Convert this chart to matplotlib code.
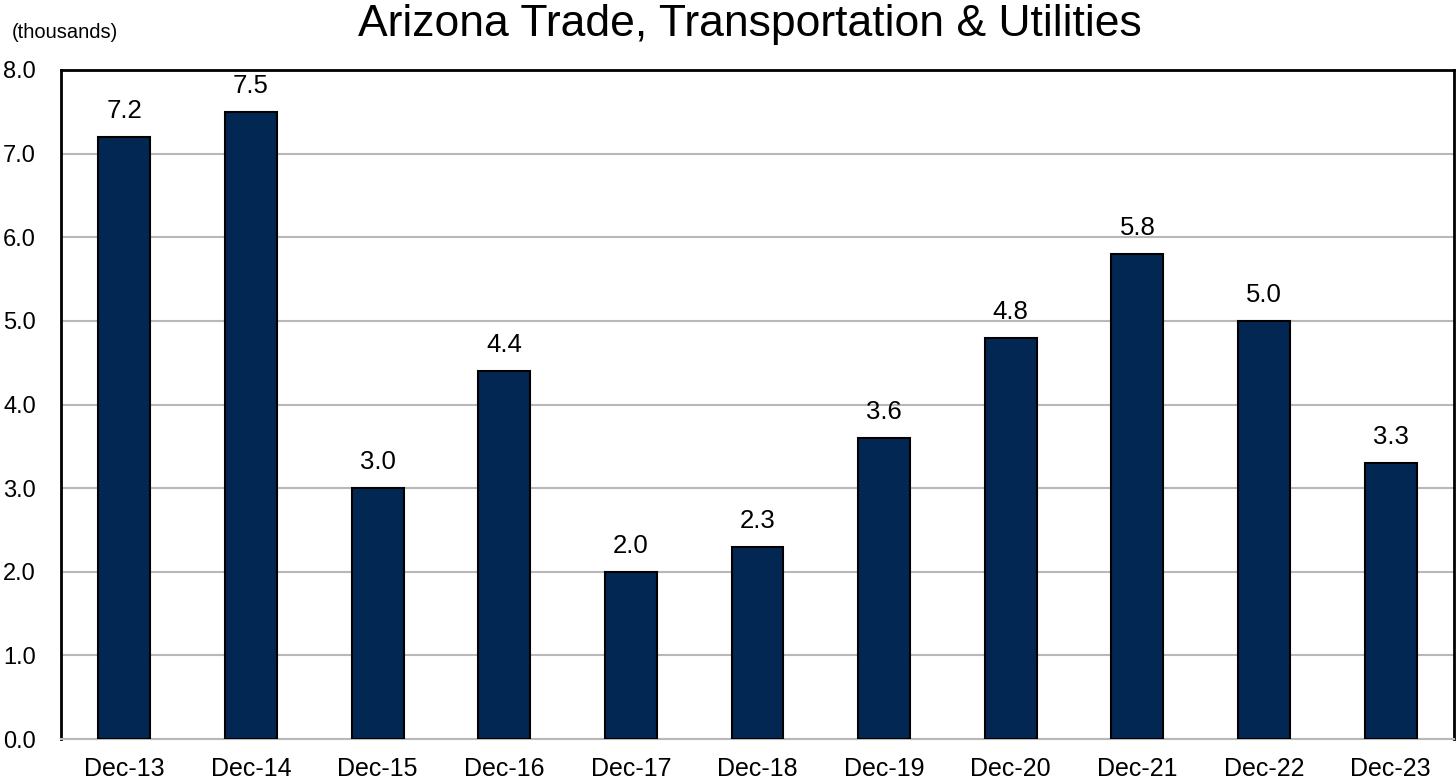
import numpy as np
import matplotlib.pyplot as plt

plt.rcParams['font.family'] = ['Liberation Sans', 'DejaVu Sans']

labels = ["Dec-13", "Dec-14", "Dec-15", "Dec-16", "Dec-17", "Dec-18",
          "Dec-19", "Dec-20", "Dec-21", "Dec-22", "Dec-23"]
values = [7.2, 7.5, 3.0, 4.4, 2.0, 2.3, 3.6, 4.8, 5.8, 5.0, 3.3]
yticks = [0, 1, 2, 3, 4, 5, 6, 7, 8]

fig = plt.figure(figsize=(14.56, 7.81), dpi=100)
ax = fig.add_axes([61 / 1456, 42 / 781, 1393 / 1456, 669 / 781])

x = np.arange(len(labels))
ax.bar(x, values, width=0.41, color="#022753", edgecolor="black", linewidth=1.5, zorder=3)
for xi, v in zip(x, values):
    ax.annotate(f"{v:.1f}", (xi, v), xytext=(0, 10), textcoords="offset points",
                ha="center", va="bottom", fontsize=18.5)

ax.set_xlim(-0.5, len(labels) - 0.5)
ax.set_ylim(0, 8)
ax.set_yticks(yticks)
ax.set_yticklabels([f"{t:.1f}" for t in yticks], fontsize=17)
ax.set_xticks(x)
ax.set_xticklabels(labels, fontsize=18)
ax.tick_params(axis="both", length=0)
ax.tick_params(axis="y", pad=18)
ax.tick_params(axis="x", pad=13)
ax.grid(axis="y", color="#b8b8b8", linewidth=1.5, zorder=0)
for side in ["left", "top", "right"]:
    ax.spines[side].set_color("black")
    ax.spines[side].set_linewidth(2)
ax.spines["bottom"].set_color("#b8b8b8")
ax.spines["bottom"].set_linewidth(1.5)

fig.text(0.515, 0.968, "Arizona Trade, Transportation & Utilities", ha="center", va="center", fontsize=32)
fig.text(12 / 1456, 0.959, "(thousands)", ha="left", va="center", fontsize=14.5)

fig.savefig("out.png", dpi=100)
